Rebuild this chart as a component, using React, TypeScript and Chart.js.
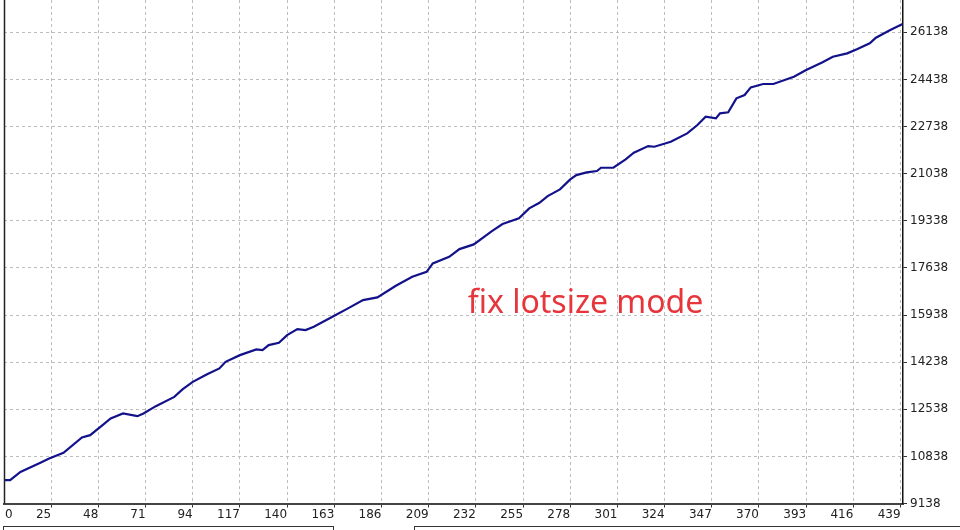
import React, { useEffect, useRef } from 'react';
import { Chart, registerables } from 'chart.js';

Chart.register(...registerables);

// trade number (x) and balance (y)
const tradeNumbers = [0, 5, 10, 20, 24, 31, 40, 44, 49, 54, 60, 67, 70, 76, 85, 89, 94, 101, 107, 110, 117, 125, 128, 131, 136, 140, 145, 149, 153, 163, 169, 177, 184, 193, 201, 208, 211, 219, 224, 231, 236, 240, 245, 253, 258, 263, 267, 273, 278, 281, 286, 291, 293, 299, 305, 309, 316, 319, 327, 335, 340, 344, 349, 351, 355, 359, 363, 366, 372, 377, 387, 393, 401, 406, 413, 418, 424, 427, 434, 440];
const balances = [9980, 9980, 10278, 10618, 10762, 10964, 11520, 11603, 11902, 12206, 12386, 12289, 12386, 12650, 12985, 13252, 13527, 13804, 14010, 14248, 14490, 14696, 14670, 14851, 14934, 15212, 15429, 15393, 15511, 15908, 16150, 16475, 16573, 16991, 17316, 17496, 17800, 18038, 18316, 18485, 18760, 18976, 19218, 19424, 19785, 19987, 20229, 20470, 20831, 20986, 21084, 21131, 21250, 21250, 21553, 21791, 22033, 22008, 22188, 22491, 22791, 23090, 23033, 23213, 23249, 23754, 23874, 24151, 24271, 24271, 24534, 24776, 25054, 25256, 25378, 25534, 25739, 25941, 26219, 26436];

const xTickValues = [0, 25, 48, 71, 94, 117, 140, 163, 186, 209, 232, 255, 278, 301, 324, 347, 370, 393, 416, 439];
const yTickValues = [9138, 10838, 12538, 14238, 15938, 17638, 19338, 21038, 22738, 24438, 26138];

const xMin = 2;
const xMax = 440.2;
const yMin = 9138;
const yMax = 27302;

const annotationText = 'fix lotsize mode';
const annotationX = 228;
const annotationY = 16006;

const LABEL_FONT = '12px "DejaVu Sans"';

const framePlugin = {
  id: 'frame',
  afterDraw(chart: any) {
    const { ctx, chartArea, scales } = chart;
    const xs = scales.x;
    const ys = scales.y;
    ctx.save();
    // left border of the plot
    ctx.strokeStyle = '#222';
    ctx.lineWidth = 1.5;
    ctx.beginPath();
    ctx.moveTo(chartArea.left + 0.5, 0);
    ctx.lineTo(chartArea.left + 0.5, chartArea.bottom);
    ctx.stroke();

    // x tick labels, drawn to the left of their tick
    ctx.font = LABEL_FONT;
    ctx.fillStyle = '#222';
    ctx.textBaseline = 'middle';
    ctx.textAlign = 'left';
    xTickValues.forEach((v) => {
      const px = xs.getPixelForValue(v);
      const text = String(v);
      const w = ctx.measureText(text).width;
      let left = px - w;
      if (left < chartArea.left) left = chartArea.left + 1;
      ctx.fillText(text, left, chartArea.bottom + 11.5);
    });

    // annotation
    ctx.font = '32px "Noto Sans"';
    ctx.fillStyle = '#e6363c';
    ctx.textBaseline = 'alphabetic';
    ctx.fillText(annotationText, xs.getPixelForValue(annotationX), ys.getPixelForValue(annotationY));
    ctx.restore();
  },
};

export default function App() {
  const canvasRef = useRef<HTMLCanvasElement | null>(null);

  useEffect(() => {
    const canvas = canvasRef.current;
    if (!canvas) return;
    const points = tradeNumbers.map((n, i) => ({ x: n, y: balances[i] }));
    const chart = new Chart(canvas, {
      type: 'line',
      data: {
        datasets: [
          {
            data: points,
            borderColor: '#12128a',
            borderWidth: 2.2,
            pointRadius: 0,
            tension: 0,
            fill: false,
          },
        ],
      },
      options: {
        animation: false,
        responsive: false,
        maintainAspectRatio: false,
        layout: { padding: { left: 4, top: 0, right: 0, bottom: 0 } },
        plugins: {
          legend: { display: false },
          tooltip: { enabled: false },
          title: { display: false },
        },
        scales: {
          x: {
            type: 'linear',
            min: xMin,
            max: xMax,
            afterBuildTicks: (scale: any) => {
              scale.ticks = xTickValues.filter((v) => v >= xMin).map((v) => ({ value: v }));
            },
            afterFit: (scale: any) => {
              scale.height = 26.5;
              scale.paddingLeft = 0;
              scale.paddingRight = 0;
            },
            ticks: { display: false },
            grid: {
              color: '#bdbdbd',
              lineWidth: 1,
              drawTicks: true,
              tickLength: 4,
              tickColor: '#333',
              tickWidth: 1,
            },
            border: { display: true, color: '#444', width: 2, dash: [3, 3] },
          },
          y: {
            type: 'linear',
            position: 'right',
            min: yMin,
            max: yMax,
            afterBuildTicks: (scale: any) => {
              scale.ticks = yTickValues.map((v) => ({ value: v }));
            },
            afterFit: (scale: any) => {
              scale.width = 57;
              scale.paddingTop = 0;
              scale.paddingBottom = 0;
            },
            ticks: {
              font: { family: 'DejaVu Sans', size: 12 },
              color: '#222',
              padding: 3,
              callback: (v: any) => String(v),
            },
            grid: {
              color: '#bdbdbd',
              lineWidth: 1,
              drawTicks: true,
              tickLength: 4,
              tickColor: '#333',
              tickWidth: 1,
            },
            border: { display: true, color: '#111', width: 1.5, dash: [3, 3] },
          },
        },
      },
      plugins: [framePlugin],
    });
    return () => chart.destroy();
  }, []);

  return (
    <div
      style={{
        position: 'fixed',
        left: 0,
        top: 0,
        width: 960,
        height: 530,
        overflow: 'hidden',
        background: '#fff',
      }}
    >
      <canvas ref={canvasRef} width={960} height={530} style={{ display: 'block', width: 960, height: 530 }} />
      <div
        style={{
          position: 'absolute',
          left: 3,
          top: 526,
          width: 329,
          height: 20,
          borderTop: '1px solid #333',
          borderLeft: '1px solid #333',
          borderRight: '1px solid #333',
        }}
      />
      <div
        style={{
          position: 'absolute',
          left: 414,
          top: 526,
          width: 600,
          height: 20,
          borderTop: '1px solid #333',
          borderLeft: '1px solid #333',
        }}
      />
    </div>
  );
}
